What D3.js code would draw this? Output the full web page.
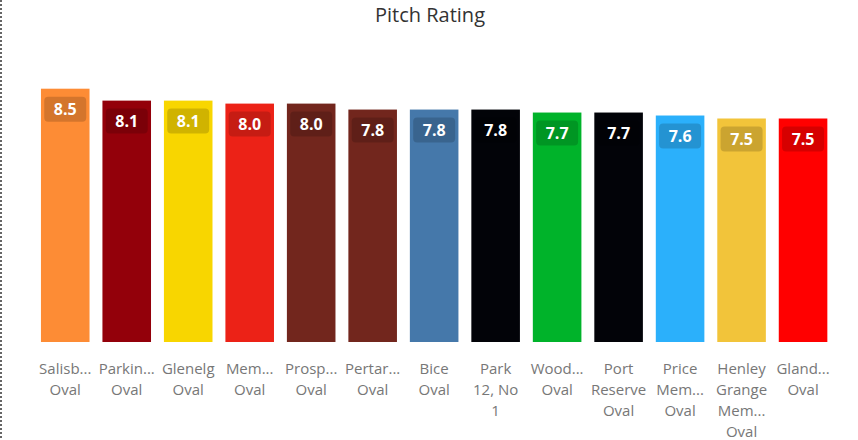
<!DOCTYPE html>
<html>
<head>
<meta charset="utf-8">
<script src="https://cdn.jsdelivr.net/npm/d3@7"></script>
<style>
  html, body { margin: 0; padding: 0; background: #fff; }
  svg { display: block; font-family: "Segoe UI", "Open Sans", sans-serif; }
</style>
</head>
<body>
<svg id="chart" width="858" height="440"></svg>
<script>
// chart data
const categories = [
  "Salisb...\nOval", "Parkin...\nOval", "Glenelg\nOval", "Mem...\nOval",
  "Prosp...\nOval", "Pertar...\nOval", "Bice\nOval", "Park\n12, No\n1",
  "Wood...\nOval", "Port\nReserve\nOval", "Price\nMem...\nOval",
  "Henley\nGrange\nMem...\nOval", "Gland...\nOval"
];
const ratings = [8.5, 8.1, 8.1, 8.0, 8.0, 7.8, 7.8, 7.8, 7.7, 7.7, 7.6, 7.5, 7.5];
const barColors = [
  "#fd8c35", "#93000a", "#f8d600", "#ec2217", "#72261d", "#72261d", "#4578aa",
  "#020308", "#00b32a", "#020308", "#2bb0fb", "#f2c43a", "#ff0000"
];

const svg = d3.select("#chart");
const W = 858, H = 440;

// dotted frame edge on the left
svg.append("line")
  .attr("x1", 1).attr("x2", 1).attr("y1", 0).attr("y2", H)
  .attr("stroke", "#666").attr("stroke-width", 2)
  .attr("stroke-dasharray", "2,2");

svg.append("text")
  .attr("x", 430).attr("y", 22)
  .attr("text-anchor", "middle")
  .attr("font-size", 20)
  .attr("fill", "#333")
  .text("Pitch Rating");

const x = d3.scaleBand()
  .domain(d3.range(categories.length))
  .range([34.5, 833.8])
  .paddingInner(0.21)
  .paddingOuter(0.105);

const y = d3.scaleLinear().domain([0, 9]).range([342, 73.8]);

const g = svg.append("g");

g.selectAll("rect.bar")
  .data(ratings)
  .join("rect")
  .attr("class", "bar")
  .attr("x", (d, i) => x(i))
  .attr("y", d => y(d))
  .attr("width", x.bandwidth())
  .attr("height", d => y(0) - y(d))
  .attr("fill", (d, i) => barColors[i]);

// value labels with dark rounded backgrounds
const lab = g.selectAll("g.lab")
  .data(ratings)
  .join("g")
  .attr("class", "lab")
  .attr("transform", (d, i) => `translate(${x(i) + x.bandwidth() / 2},${y(d) + 8})`);

lab.append("rect")
  .attr("x", -21).attr("y", 0)
  .attr("width", 42).attr("height", 25)
  .attr("rx", 4)
  .attr("fill", "#000").attr("fill-opacity", 0.16);

lab.append("text")
  .attr("y", 18)
  .attr("text-anchor", "middle")
  .attr("font-size", 16)
  .attr("font-weight", "bold")
  .attr("fill", "#fff")
  .text(d => d.toFixed(1));

// category labels (wrapped)
const cat = g.selectAll("text.cat")
  .data(categories)
  .join("text")
  .attr("class", "cat")
  .attr("text-anchor", "middle")
  .attr("font-size", 15)
  .attr("fill", "#777");

cat.each(function(d, i) {
  const t = d3.select(this);
  d.split("\n").forEach((line, k) => {
    t.append("tspan")
      .attr("x", x(i) + x.bandwidth() / 2)
      .attr("y", 373.5 + k * 21.3)
      .text(line);
  });
});
</script>
</body>
</html>
